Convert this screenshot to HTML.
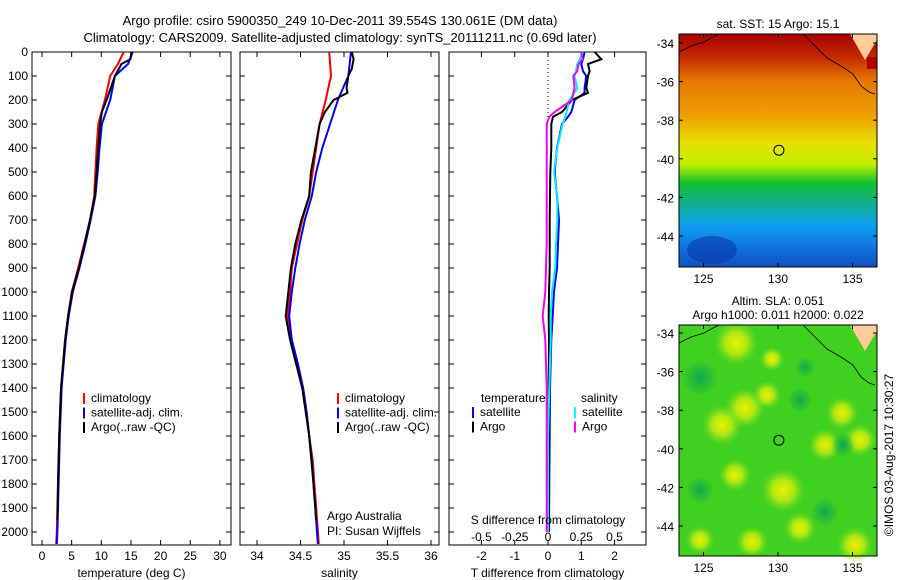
<!DOCTYPE html>
<html><head><meta charset="utf-8"><style>
body{margin:0;background:#fff}
svg{display:block;font-family:"Liberation Sans",sans-serif}
text{font-size:12px;fill:#000}
</style></head><body>
<svg id="c" width="900" height="580" viewBox="0 0 900 580">
<defs>
<linearGradient id="sst" x1="0" y1="0" x2="0" y2="1">
<stop offset="0" stop-color="#a80000"/><stop offset="0.1" stop-color="#c42a00"/>
<stop offset="0.2" stop-color="#e47800"/><stop offset="0.35" stop-color="#f0a000"/>
<stop offset="0.47" stop-color="#e8e000"/><stop offset="0.56" stop-color="#c0f000"/>
<stop offset="0.64" stop-color="#10c030"/><stop offset="0.73" stop-color="#10b090"/>
<stop offset="0.82" stop-color="#10a0f0"/><stop offset="0.92" stop-color="#1070e0"/>
<stop offset="1" stop-color="#1050c0"/></linearGradient>
<radialGradient id="blob"><stop offset="0" stop-color="#f0f000"/><stop offset="0.5" stop-color="#c8ee10" stop-opacity="0.8"/><stop offset="1" stop-color="#80e020" stop-opacity="0"/></radialGradient>
<radialGradient id="dblob"><stop offset="0" stop-color="#10a850"/><stop offset="1" stop-color="#10a850" stop-opacity="0"/></radialGradient>
</defs>
<g id="titles">
<text x="340" y="25" text-anchor="middle" style="font-size:13px">Argo profile: csiro 5900350_249 10-Dec-2011 39.554S 130.061E (DM data)</text>
<text x="340" y="42" text-anchor="middle" style="font-size:13px">Climatology: CARS2009. Satellite-adjusted climatology: synTS_20111211.nc (0.69d later)</text>
</g>
<g id="plots"></g>
<g id="maps"></g>
<text transform="translate(893,455) rotate(-90)" text-anchor="middle">©IMOS 03-Aug-2017 10:30:27</text>
</svg>
<script>
// ---- data ----
const tDepth = [0,50,100,200,300,400,500,600,700,800,900,1000,1100,1200,1400,1600,1800,2000,2050];
const tClim  = [13.8,12.8,11.5,10.6,9.5,9.2,9.0,8.8,8.1,7.1,6.1,5.0,4.4,3.9,3.2,2.9,2.7,2.5,2.4];
const tSat   = [15.3,14.5,12.3,11.5,10.1,9.7,9.4,9.0,8.2,7.3,6.3,5.2,4.5,4.0,3.3,3.0,2.8,2.6,2.5];
const aDepth = [0,30,50,100,200,250,300,400,500,600,700,800,900,1000,1100,1200,1400,1600,1800,1950];
const tArgo  = [15.1,14.9,13.4,12.3,10.9,10.1,9.8,9.5,9.2,8.9,8.1,7.2,6.2,5.1,4.4,3.9,3.2,2.9,2.7,2.6];
const sDepth = [0,100,150,200,300,400,500,600,700,800,900,1000,1100,1200,1300,1400,1500,1600,1700,1800,1900,2000,2050];
const sClim  = [34.83,34.85,34.82,34.79,34.72,34.68,34.64,34.60,34.52,34.46,34.40,34.38,34.35,34.40,34.47,34.53,34.57,34.60,34.64,34.66,34.68,34.70,34.71];
const sSat   = [35.08,35.05,34.99,34.93,34.84,34.75,34.68,34.63,34.55,34.49,34.44,34.40,34.37,34.40,34.47,34.53,34.57,34.60,34.63,34.65,34.67,34.69,34.70];
const saDepth= [0,30,70,100,150,170,200,250,300,400,500,600,700,800,900,1000,1100,1200,1400,1600,1800,1950];
const sArgo  = [35.09,35.11,35.09,35.05,35.03,35.04,34.88,34.78,34.72,34.67,34.62,34.60,34.51,34.44,34.39,34.36,34.33,34.38,34.52,34.60,34.65,34.68];
const dDepth = [0,30,50,80,100,150,170,200,250,270,300,400,500,600,700,800,900,1000,1100,1200,1400,1600,1800,2000];
const dTsat  = [1.1,1.05,1.0,1.05,1.15,1.1,1.1,0.8,0.7,0.6,0.42,0.27,0.2,0.27,0.33,0.3,0.27,0.18,0.14,0.1,0.06,0.05,0.04,0.03];
const dTargo = [1.4,1.6,1.2,1.25,1.2,1.15,1.2,0.72,0.42,0.15,0.1,0.1,0.07,0.06,0.05,0.05,0.05,0.03,0.02,0.03,0.02,0.02,0.02,0.02];
const dSsat  = [0.26,0.24,0.22,0.21,0.2,0.22,0.2,0.16,0.14,0.13,0.11,0.07,0.045,0.07,0.07,0.06,0.055,0.03,0.02,0.02,0.01,0.0,0.0,0.0];
const dSargo = [0.25,0.26,0.23,0.22,0.19,0.2,0.19,0.18,0.05,0.01,-0.01,-0.01,-0.01,-0.01,-0.01,-0.01,-0.015,-0.02,-0.04,-0.02,-0.01,-0.01,-0.01,-0.01];
const depthTicks = [0,100,200,300,400,500,600,700,800,900,1000,1100,1200,1300,1400,1500,1600,1700,1800,1900,2000];
const tTicks = [0,5,10,15,20,25,30];
const sTicks = [34,34.5,35,35.5,36];
const sTickLabels = ["34","34.5","35","35.5","36"];
const dtTicks = [-2,-1,0,1,2];
const dsTicks = [-0.5,-0.25,0,0.25,0.5];
const dsTickLabels = ["-0.5","-0.25","0","0.25","0.5"];
const latTicks = [-34,-36,-38,-40,-42,-44];
const lonTicks = [125,130,135];
const argoPos = [130.061,-39.554];

// ---- scales ----
const NS="http://www.w3.org/2000/svg";
const Y0=52, Y1=545;
const yD = d => Y0 + d*0.24;
const xT = t => 42 + t*5.93;
const xS = s => 257 + (s-34)*87;
const xDT = v => 548 + v*33.3;
const xDS = v => 548 + v*133;
function mk(tag, attrs, parent){const e=document.createElementNS(NS,tag);for(const k in attrs)e.setAttribute(k,attrs[k]);parent.appendChild(e);return e;}
const plots=document.getElementById('plots');

function panel(name,x0,x1,ticks,labels,sx,xlabel,showDepth){
  const g=mk('g',{},plots);
  
  
  const fr=mk('rect',{x:x0,y:Y0,width:x1-x0,height:Y1-Y0,fill:'none',stroke:'#000','stroke-width':1},g);
  
  
  depthTicks.forEach(d=>{
    mk('line',{x1:x0,x2:x0+5,y1:yD(d),y2:yD(d),stroke:'#000'},g);
    mk('line',{x1:x1,x2:x1-5,y1:yD(d),y2:yD(d),stroke:'#000'},g);
    if(showDepth){const t=mk('text',{x:x0-4,y:yD(d)+4,'text-anchor':'end'},g);t.textContent=d;
      
      }
  });
  ticks.forEach((v,i)=>{
    const x=sx(v);
    mk('line',{x1:x,x2:x,y1:Y0,y2:Y0+5,stroke:'#000'},g);
    mk('line',{x1:x,x2:x,y1:Y1,y2:Y1-5,stroke:'#000'},g);
    if(labels){const t=mk('text',{x:x,y:Y1+15,'text-anchor':'middle'},g);t.textContent=labels[i];
      
      }
  });
  const xl=mk('text',{x:(x0+x1)/2,y:577,'text-anchor':'middle'},g);xl.textContent=xlabel;
  
  
  return g;
}
function line(g,name,depths,vals,sx,color){
  let d='';depths.forEach((z,i)=>{d+=(i?'L':'M')+sx(vals[i]).toFixed(1)+','+yD(z).toFixed(1);});
  const p=mk('path',{d:d,fill:'none',stroke:color,'stroke-width':2},g);
  
  
}
function legend(g,x,y,items){
  items.forEach((it,i)=>{
    const yy=y+i*14.5;
    mk('rect',{x:x,y:yy-9,width:2,height:11,fill:it[1]},g);
    const t=mk('text',{x:x+8,y:yy},g);t.textContent=it[0];
    
    
  });
}
function txt(g,x,y,s,anchor,name){const t=mk('text',{x:x,y:y,'text-anchor':anchor||'start'},g);t.textContent=s;
  
  return t;}

// panel 1
const p1=panel('temperature-panel',32,231,tTicks,tTicks.map(String),xT,'temperature (deg C)',true);
line(p1,'temperature-climatology-line',tDepth,tClim,xT,'#f00000');
line(p1,'temperature-satellite-line',tDepth,tSat,xT,'#0000f0');
line(p1,'temperature-argo-line',aDepth,tArgo,xT,'#000');
legend(p1,83,402,[['climatology','#f00'],['satellite-adj. clim.','#00f'],['Argo(..raw -QC)','#000']]);
// panel 2
const p2=panel('salinity-panel',240,439,sTicks,sTickLabels,xS,'salinity',false);
line(p2,'salinity-climatology-line',sDepth,sClim,xS,'#f00000');
line(p2,'salinity-satellite-line',sDepth,sSat,xS,'#0000f0');
line(p2,'salinity-argo-line',saDepth,sArgo,xS,'#000');
legend(p2,337,402,[['climatology','#f00'],['satellite-adj. clim.','#00f'],['Argo(..raw -QC)','#000']]);
txt(p2,327,520,'Argo Australia','start','pi-institution');
txt(p2,327,535,'PI: Susan Wijffels','start','pi-name');
// panel 3
const p3=panel('difference-panel',449,646,dtTicks,dtTicks.map(String),xDT,'T difference from climatology',false);
mk('line',{x1:548,x2:548,y1:Y0,y2:yD(300),stroke:'#000','stroke-dasharray':'1,3'},p3);
line(p3,'t-diff-satellite-line',dDepth,dTsat,xDT,'#0000f0');
line(p3,'t-diff-argo-line',dDepth,dTargo,xDT,'#000');
line(p3,'s-diff-satellite-line',dDepth,dSsat,xDS,'#00f0f0');
line(p3,'s-diff-argo-line',dDepth,dSargo,xDS,'#f000f0');
txt(p3,481,402,'temperature','start','legend-title-temperature');
txt(p3,581,402,'salinity','start','legend-title-salinity');
legend(p3,472,416,[['satellite','#00f'],['Argo','#000']]);
legend(p3,574,416,[['satellite','#0ff'],['Argo','#f0f']]);
txt(p3,548,524,'S difference from climatology','middle','s-axis-title');
dsTicks.forEach((v,i)=>txt(p3,xDS(v),541,dsTickLabels[i],'middle','s-tick-label'));

// ---- maps ----
const maps=document.getElementById('maps');
const MX0=679,MX1=877;
const xLon = l => 778 + (l-130)*14.9;
function map(name,top,bot,lat34,fillFn,title){
  const yLat = la => lat34 + (-34-la)*19.3;
  const g=mk('g',{},maps);
  
  
  fillFn(g,top,bot);
  // land
  const land=mk('path',{d:`M${MX1-27},${top} L${MX1},${top} L${MX1},${top+6} L${MX1-12},${top+26} L${MX1-20},${top+12} Z`,fill:'#ffcc99'},g);
  
  
  mk('path',{d:`M${MX0},${top+18} L${MX0+12},${top+12} L${MX0+25},${top+8} L${MX0+36},${top+2} L${MX0+40},${top}`,fill:'none',stroke:'#000','stroke-width':0.8},g);
  mk('path',{d:`M${MX1-74},${top} L${MX1-62},${top+12} L${MX1-50},${top+24} L${MX1-36},${top+32} L${MX1-24},${top+40} L${MX1-16},${top+52} L${MX1-8},${top+58} L${MX1-2},${top+60}`,fill:'none',stroke:'#000','stroke-width':0.8},g);
  mk('rect',{x:MX0,y:top,width:MX1-MX0,height:bot-top,fill:'none',stroke:'#000'},g);
  latTicks.forEach(la=>{const y=yLat(la);
    mk('line',{x1:MX0,x2:MX0+4,y1:y,y2:y,stroke:'#000'},g);
    mk('line',{x1:MX1,x2:MX1-4,y1:y,y2:y,stroke:'#000'},g);
    txt(g,674,y+5,String(la),'end','lat-tick-label');});
  lonTicks.forEach(lo=>{const x=xLon(lo);
    mk('line',{x1:x,x2:x,y1:top,y2:top+4,stroke:'#000'},g);
    mk('line',{x1:x,x2:x,y1:bot,y2:bot-4,stroke:'#000'},g);
    txt(g,x,bot+16,String(lo),'middle','lon-tick-label');});
  const c=mk('circle',{cx:xLon(argoPos[0]),cy:yLat(argoPos[1]),r:5,fill:'none',stroke:'#000'},g);
  
  
  title.forEach((s,i)=>txt(g,778,top-(title.length-1-i)*14-6,s,'middle','map-title'));
}
map('sst-map',34,267,43,(g,t,b)=>{
  const r=mk('rect',{x:MX0,y:t,width:MX1-MX0,height:b-t,fill:'url(#sst)'},g);
  
  
  mk('ellipse',{cx:712,cy:250,rx:25,ry:14,fill:'#0838a8',opacity:0.6},g);
  mk('rect',{x:MX1-10,y:t+23,width:10,height:12,fill:'#b00000'},g);
},['sat. SST: 15 Argo: 15.1']);
map('sla-map',325,556,333,(g,t,b)=>{
  const r=mk('rect',{x:MX0,y:t,width:MX1-MX0,height:b-t,fill:'#40d020'},g);
  
  
  [[736,343,22],[745,408,20],[722,425,20],[767,395,14],[783,490,22],[800,528,16],[842,413,16],[825,445,16],[735,475,16],[860,440,16],[752,542,16],[855,545,18],[772,359,12],[700,540,14]].forEach(b2=>mk('circle',{cx:b2[0],cy:b2[1],r:b2[2],fill:'url(#blob)'},g));
  [[700,378,18],[700,490,14],[843,445,12],[825,512,14],[800,400,12],[805,367,10]].forEach(b2=>mk('circle',{cx:b2[0],cy:b2[1],r:b2[2],fill:'url(#dblob)'},g));
},['Altim. SLA: 0.051','Argo h1000: 0.011 h2000: 0.022']);
</script>
</body></html>
